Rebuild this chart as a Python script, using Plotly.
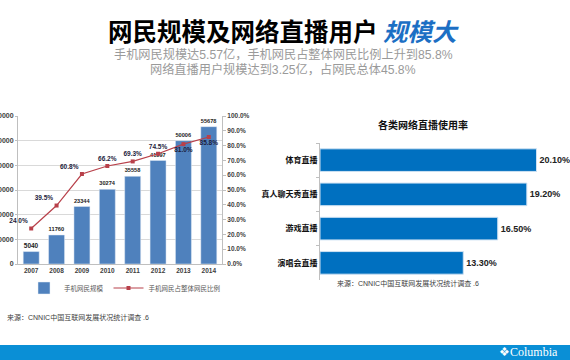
import plotly.graph_objects as go

W, H = 570, 360

years = ["2007", "2008", "2009", "2010", "2011", "2012", "2013", "2014"]
mobile_users = [5040, 11760, 23344, 30274, 35558, 41997, 50006, 55678]
mobile_share = [24.0, 39.5, 60.8, 66.2, 69.3, 74.5, 81.0, 85.8]
share_text_pos = ["top left", "top left", "top left", "top center",
                  "top center", "top center", "bottom center", "bottom center"]

live_types = ["体育直播", "真人聊天秀直播", "游戏直播", "演唱会直播"]
live_rates = [20.10, 19.20, 16.50, 13.30]

left_y_ticks = [0, 10000, 20000, 30000, 40000, 50000, 60000]
right_y_ticks = [0, 10, 20, 30, 40, 50, 60, 70, 80, 90, 100]


def px_x(x):
    return x / W


def px_y(y):
    return 1 - y / H


CJK = "Liberation Sans, Noto Sans CJK SC, sans-serif"

fig = go.Figure()

fig.add_trace(go.Bar(
    x=years, y=mobile_users, name="手机网民规模",
    marker=dict(color="#4F81BD"), width=0.63,
    text=[str(v) for v in mobile_users], textposition="outside",
    textfont=dict(size=6.5, color="#222222", weight="bold"),
    cliponaxis=False, xaxis="x", yaxis="y",
))
fig.add_trace(go.Scatter(
    x=years, y=mobile_share, name="手机网民占整体网民比例",
    mode="lines+markers+text",
    line=dict(color="#B8404A", width=1.2),
    marker=dict(color="#B8404A", size=4, symbol="square"),
    text=[f"{v:.1f}%" for v in mobile_share], textposition=share_text_pos,
    textfont=dict(size=6.5, color="#1c1c3c", weight="bold"),
    cliponaxis=False, xaxis="x", yaxis="y2",
))

fig.add_trace(go.Bar(
    y=live_types, x=live_rates, orientation="h", showlegend=False,
    marker=dict(color="#0070C0", line=dict(color="#cfe2f3", width=1)),
    width=0.66,
    text=[f"{v:.2f}%" for v in live_rates], textposition="outside",
    textfont=dict(size=9, color="#222222", weight="bold"),
    cliponaxis=False, xaxis="x2", yaxis="y3",
))

left_dom_y = [px_y(264), px_y(116)]

fig.update_layout(
    width=W, height=H,
    margin=dict(l=0, r=0, t=0, b=0, autoexpand=False),
    paper_bgcolor="white", plot_bgcolor="white",
    font=dict(family=CJK, color="#404040"),
    xaxis=dict(domain=[px_x(18), px_x(222)], type="category", automargin=False,
               showline=True, linecolor="#bfbfbf", linewidth=1,
               tickfont=dict(size=6.5, color="#404040", weight="bold"),
               ticks="", showgrid=False),
    yaxis=dict(domain=left_dom_y, range=[0, 60000], tickvals=left_y_ticks,
               tickformat="d", automargin=False,
               showline=True, linecolor="#bfbfbf", linewidth=1,
               ticks="outside", ticklen=2, tickcolor="#bfbfbf",
               gridcolor="#d9d9d9", gridwidth=1, zeroline=False,
               tickfont=dict(size=7, color="#404040", weight="bold")),
    yaxis2=dict(domain=left_dom_y, overlaying="y", side="right", anchor="x",
                range=[0, 100], tickvals=right_y_ticks, automargin=False,
                ticktext=[f"{v:.1f}%" for v in right_y_ticks],
                showline=True, linecolor="#bfbfbf", linewidth=1,
                ticks="outside", ticklen=3, tickcolor="#bfbfbf",
                showgrid=False, zeroline=False,
                tickfont=dict(size=6.5, color="#404040", weight="bold")),
    xaxis2=dict(domain=[px_x(320), px_x(557)], range=[0, 22], anchor="y3",
                visible=False, automargin=False),
    yaxis3=dict(domain=[px_y(280), px_y(143)], anchor="x2", type="category",
                autorange="reversed", showline=True, linecolor="#bfbfbf",
                automargin=False,
                linewidth=1, ticks="outside", ticklen=3, tickcolor="#bfbfbf",
                tickson="boundaries", showgrid=False,
                tickfont=dict(size=8, color="#111111", weight="bold")),
    showlegend=True,
    legend=dict(orientation="h", x=px_x(24), y=px_y(288), xanchor="left",
                yanchor="middle", font=dict(size=6.5, color="#595959"),
                itemwidth=30, bgcolor="rgba(0,0,0,0)", tracegroupgap=0),
)

# Bottom band
fig.add_shape(type="rect", xref="paper", yref="paper",
              x0=0, x1=1, y0=0, y1=px_y(345), line=dict(width=0),
              fillcolor="#0A8FD6", layer="below")

annotations = [
    dict(x=px_x(283), y=px_y(30),
         text="<b>网民规模及网络直播用户 <span style='color:#1C6FC4'><i>规模大</i></span></b>",
         font=dict(size=24.5, color="#000000", family="Noto Sans CJK SC")),
    dict(x=px_x(283), y=px_y(54),
         text="手机网民规模达5.57亿，手机网民占整体网民比例上升到85.8%",
         font=dict(size=12.2, color="#9a9a9a", family=CJK)),
    dict(x=px_x(283), y=px_y(69),
         text="网络直播用户规模达到3.25亿，占网民总体45.8%",
         font=dict(size=12.2, color="#9a9a9a", family=CJK)),
    dict(x=px_x(423), y=px_y(125), text="<b>各类网络直播使用率</b>",
         font=dict(size=10, color="#111111", family=CJK)),
    dict(x=px_x(5), y=px_y(317), xanchor="left",
         text="来源：CNNIC中国互联网发展状况统计调查 .6",
         font=dict(size=7, color="#404040", family=CJK)),
    dict(x=px_x(335), y=px_y(283), xanchor="left",
         text="来源：CNNIC中国互联网发展状况统计调查 .6",
         font=dict(size=7, color="#404040", family=CJK)),
    dict(x=px_x(528), y=px_y(352),
         text="❖Columbia",
         font=dict(size=12, color="#ffffff", family="Liberation Serif, DejaVu Serif")),
]
for a in annotations:
    a.setdefault("xanchor", "center")
    a.update(xref="paper", yref="paper", showarrow=False, yanchor="middle")
fig.update_layout(annotations=annotations)

fig.write_html("out.html", config={"displayModeBar": False},
               post_script="document.body.style.margin='0';")
